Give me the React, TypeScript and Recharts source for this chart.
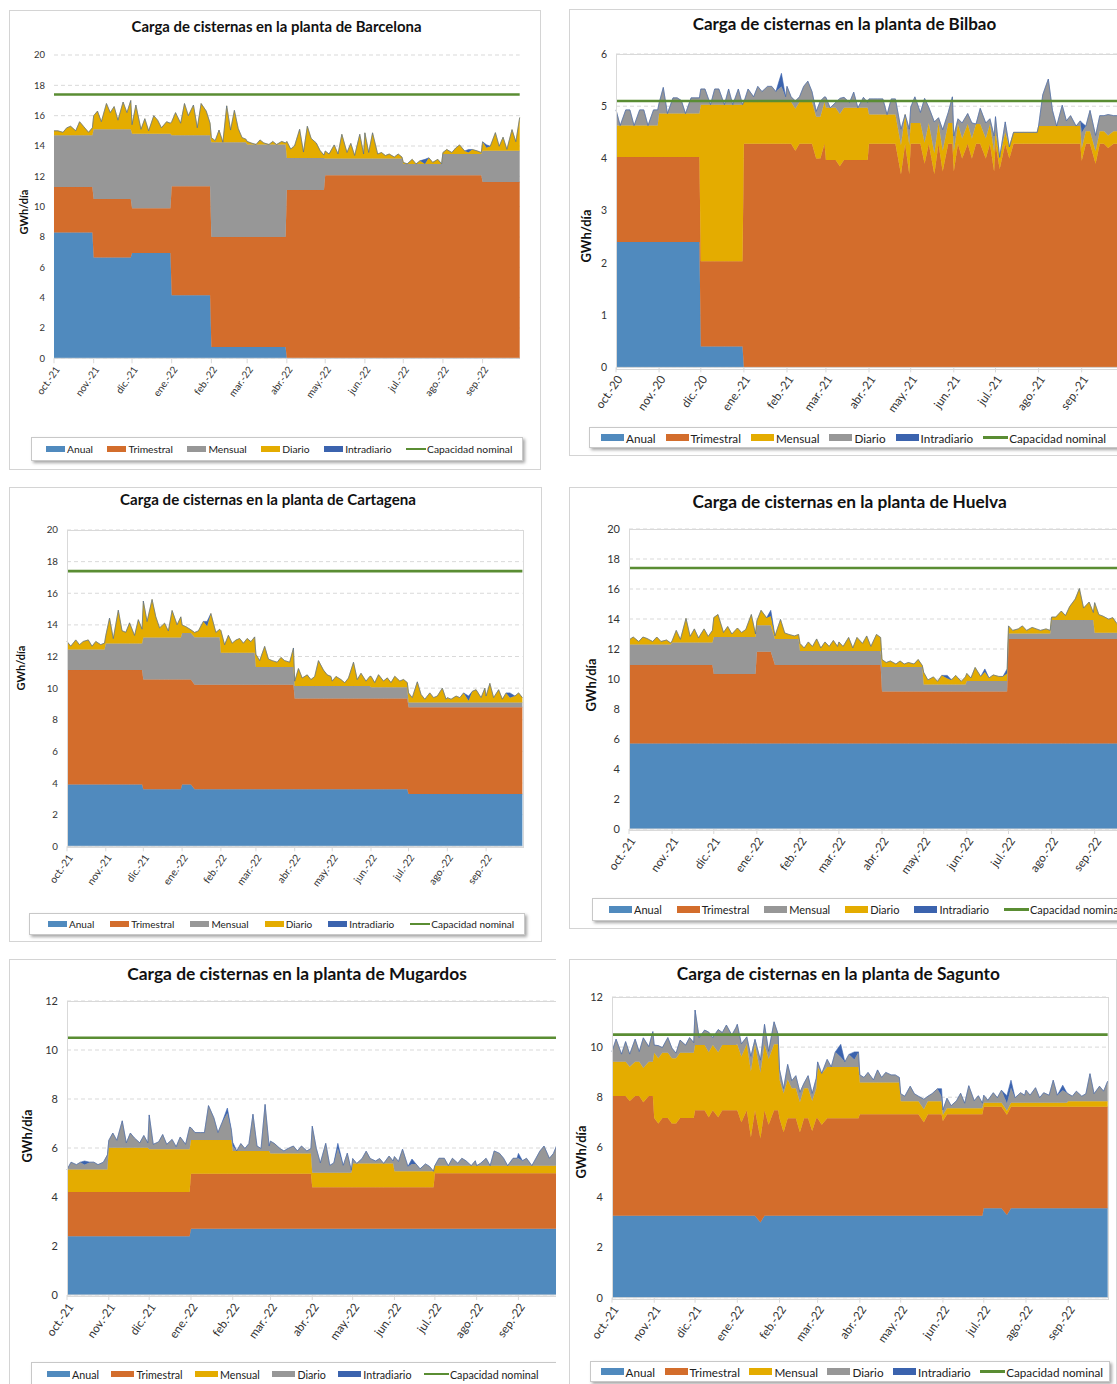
import React from 'react';
import { ComposedChart, Area, Line, XAxis, YAxis, CartesianGrid } from 'recharts';

const FONT = 'Lato, "Open Sans", sans-serif';
const AZUL = '#508ABE';
const NARANJA = '#D36D2C';
const GRIS = '#979797';
const ORO = '#E4AC00';
const AZUL_OSC = '#3B63AE';
const VERDE = '#5A8D33';

// año de octubre a septiembre
const DIAS_MES = [31, 30, 31, 31, 28, 31, 30, 31, 30, 31, 31, 30];
const INICIO_MES = [0, 31, 61, 92, 123, 151, 182, 212, 243, 273, 304, 335];

const MESES_2122 = ['oct.-21', 'nov.-21', 'dic.-21', 'ene.-22', 'feb.-22', 'mar.-22', 'abr.-22', 'may.-22', 'jun.-22', 'jul.-22', 'ago.-22', 'sep.-22'];
const MESES_2021 = ['oct.-20', 'nov.-20', 'dic.-20', 'ene.-21', 'feb.-21', 'mar.-21', 'abr.-21', 'may.-21', 'jun.-21', 'jul.-21', 'ago.-21', 'sep.-21'];
const SERIES = ['Anual', 'Trimestral', 'Mensual', 'Diario', 'Intradiario'];

// ---------- Barcelona (GWh/día) ----------
const BCN_ANUAL = [8.3, 6.65, 6.95, 4.15, 0.75, 0.75, 0, 0, 0, 0, 0, 0];
const BCN_TRIMESTRAL = [3.0, 3.85, 2.95, 7.2, 7.25, 7.25, 11.1, 12.07, 12.07, 12.07, 12.07, 11.63];
const BCN_MENSUAL = [3.4, 4.6, 4.9, 3.35, 6.25, 6.1, 2.1, 1.1, 1.1, 0.75, 1.4, 2.05];
const BCN_DIARIO = [
  0.3, 0.3, 0.2, 0.5, 0.6, 0.3, 0.9, 0.6, 0.2, 0.5,
  0.9, 1.2, 0.5, 1.7, 1.1, 1.5, 0.6, 1.8, 1.1, 1.9,
  0.6, 1.9, 0.3, 1.0, 0.2, 1.2, 0.9, 0.4, 0.8, 0.7,
  0.9, 1.5, 0.8, 2.1, 1.3, 2.0, 0.5, 2.1, 1.6, 0.8,
  0.3, 0.1, 0.8, 0, 2.4, 0.8, 2.1, 0.9, 0.3, 0.2,
  0.2, 0.1, 0, 0.3, 0.1, 0, 0.2, 0, 0.2, 0.1,
  1.1, 0.6, 0.8, 1.9, 0.4, 2.1, 1.3, 1.0, 0.5, 0.2,
  0.5, 0.3, 0.9, 0.3, 1.6, 0.4, 1.0, 0.2, 1.6, 0.3,
  1.7, 0.4, 1.7, 0.3, 0.4, 0.2, 0.3, 0.1, 0.3, 0.1,
  0.1, 0, 0.3, 0, 0.2, 0, 0.4, 0.1, 0.3, 0,
  0.1, 0.3, 0.1, 0.4, 0.6, 0.2, 0.1, 0.3, 0.2, 0.1,
  0.6, 0.2, 0.3, 1.2, 0.3, 0.9, 0.1, 1.4, 0.6, 2.2,
];
const BCN_INTRADIARIO: [number, number][] = [[95, 0.3], [106, 0.2], [111, 0.2]];
const BCN_AJUSTES: [string, number, number][] = [];
const BCN_CAPACIDAD = 17.4;

// ---------- Bilbao ----------
const BIO_ANUAL = [2.4, 2.4, 0.4, 0, 0, 0, 0, 0, 0, 0, 0, 0];
const BIO_TRIMESTRAL = [1.63, 1.63, 1.63, 4.28, 4.28, 3.97, 4.28, 4.28, 4.28, 4.28, 4.28, 4.28];
const BIO_MENSUAL = [0.6, 0.83, 3.0, 0.8, 0.8, 1.0, 0.56, 0.4, 0.38, 0.22, 0.34, 0.24];
const BIO_DIARIO = [
  0.3, 0, 0.3, 0.3, 0, 0.3, 0.3, 0, 0.3, 0.3,
  0.2, 0.5, 0, 0.3, 0.3, 0.25, 0, 0.3, 0.3, 0.3,
  0.3, 0.3, 0, 0.3, 0.3, 0, 0.3, 0, 0.3, 0,
  0, 0.25, 0.1, 0.3, 0.2, 0.3, 0.3, 0.2, 0.3, 0.1,
  0.3, 0.1, 0.15, 0.1, 0.3, 0.4, 0.2, 0.1, 0.3, 0.1,
  0.2, 0, 0.1, 0.3, 0.2, 0.1, 0.3, 0, 0.2, 0.1,
  0.3, 0.3, 0.3, 0.3, 0, 0.3, 0.3, 0.3, 0, 0.3,
  0.3, 0.5, 0.2, 0.85, 0.3, 0.6, 0.1, 0.4, 0.2, 0.5,
  0.3, 0.1, 0.3, 0.2, 0.3, 0, 0.3, 0.3, 0.1, 0.3,
  0.3, 0, 0.2, 0, 0, 0, 0, 0, 0, 0,
  0, 0.6, 0.9, 0.3, 0, 0.4, 0.1, 0.2, 0, 0.1,
  0.3, 0.1, 0.4, 0.3, 0.3, 0.3, 0.4, 0.3, 0.3, 0.3,
];
const BIO_INTRADIARIO: [number, number][] = [[38, 0.25], [110, 0.2]];
const BIO_AJUSTES: [string, number, number][] = [
  ['trimestral', 42, 4.15], ['trimestral', 47, 4.0], ['trimestral', 48, 4.0], ['trimestral', 53, 3.85],
  ['trimestral', 67, 3.7], ['trimestral', 69, 3.7], ['trimestral', 73, 3.9], ['trimestral', 75, 3.7],
  ['trimestral', 77, 3.75], ['trimestral', 80, 3.75], ['trimestral', 82, 4.0], ['trimestral', 84, 4.0],
  ['trimestral', 87, 4.0], ['trimestral', 89, 3.75], ['trimestral', 91, 3.8], ['trimestral', 93, 4.0],
  ['trimestral', 110, 3.95], ['trimestral', 113, 3.9], ['trimestral', 116, 4.2],
];
const BIO_CAPACIDAD = 5.1;

// ---------- Cartagena ----------
const CTG_ANUAL = [3.9, 3.9, 3.6, 3.6, 3.6, 3.6, 3.6, 3.6, 3.6, 3.3, 3.3, 3.3];
const CTG_TRIMESTRAL = [7.25, 7.25, 6.95, 6.62, 6.62, 6.62, 5.75, 5.75, 5.75, 5.5, 5.5, 5.5];
const CTG_MENSUAL = [1.3, 1.68, 2.66, 3.0, 2.02, 1.12, 0.79, 0.79, 0.7, 0.3, 0.3, 0.3];
const CTG_DIARIO = [
  0.5, 0.2, 0.6, 0.3, 0.5, 0.6, 0.2, 0.5, 0.3, 0.4,
  0.5, 1.6, 0.3, 2.1, 0.8, 0.7, 1.3, 0.5, 1.5, 0.9,
  2.3, 1.0, 2.4, 1.3, 0.6, 0.9, 0.4, 1.7, 0.8, 1.3,
  0.5, 0.4, 0.2, 0.3, 0.4, 1.0, 0.7, 1.5, 0.3, 0.5,
  1.4, 0.5, 1.1, 0.6, 0.8, 0.9, 0.6, 0.9, 0.7, 1.0,
  0.8, 0.4, 1.3, 0.5, 0.4, 0.3, 0.6, 0.4, 0.3, 1.2,
  0.3, 1.1, 0.5, 0.7, 0.4, 0.6, 1.6, 1.0, 0.7, 0.6,
  0.3, 0.6, 0.4, 0.2, 0.5, 1.5, 0.4, 0.8, 0.3, 0.6,
  0.7, 0.3, 0.8, 0.4, 0.6, 0.3, 0.7, 0.4, 0.5, 0.3,
  0.6, 0.3, 1.3, 0.5, 0.2, 0.6, 0.3, 0.4, 0.9, 0.2,
  0.3, 0.2, 0.4, 0.3, 0.6, 0.1, 0.7, 0.8, 0.3, 0.9,
  0.4, 1.2, 0.3, 0.8, 0.2, 0.6, 0.3, 0.4, 0.6, 0.3,
];
const CTG_INTRADIARIO: [number, number][] = [[36, 0.3], [105, 0.3], [116, 0.3]];
const CTG_AJUSTES: [string, number, number][] = [
  ['anual', 30, 3.9], ['anual', 31, 3.9], ['anual', 32, 3.9],
  ['trimestral', 30, 6.65], ['trimestral', 31, 6.65], ['trimestral', 32, 6.65],
  ['mensual', 30, 2.94], ['mensual', 31, 2.94], ['mensual', 32, 2.94],
];
const CTG_CAPACIDAD = 17.4;

// ---------- Huelva ----------
const HUV_ANUAL = [5.7, 5.7, 5.7, 5.7, 5.7, 5.7, 5.7, 5.7, 5.7, 5.7, 5.7, 5.7];
const HUV_TRIMESTRAL = [5.23, 5.23, 4.63, 5.23, 5.23, 5.23, 3.46, 3.46, 3.46, 6.97, 6.97, 6.97];
const HUV_MENSUAL = [1.37, 1.51, 2.47, 1.74, 0.94, 0.94, 1.64, 0.48, 0.71, 0.37, 1.26, 0.42];
const HUV_DIARIO = [
  0.3, 0.5, 0.2, 0.5, 0.4, 0.2, 0.5, 0.2, 0.3, 0.1,
  0.1, 0.8, 0.2, 1.6, 0.4, 0.9, 0.3, 0.9, 0.4, 0.8,
  1.3, 1.5, 0.3, 0.7, 0.2, 0.6, 0.3, 0.5, 1.5, 0.2,
  0.3, 1.0, 0.5, 0.6, 0.2, 1.3, 0.4, 0.3, 0.2, 0.3,
  0.5, 0.2, 0.6, 0.3, 0.8, 0.2, 0.6, 0.3, 0.7, 0.3,
  0.6, 0.3, 0.9, 0.2, 0.9, 0.5, 1.0, 0.3, 1.1, 0.9,
  0.5, 0.3, 0.4, 0.2, 0.4, 0.2, 0.3, 0.2, 0.5, 0.1,
  0.8, 0.3, 0.5, 0.2, 0.6, 0.4, 0.3, 0.6, 0.2, 0.5,
  0.5, 0.2, 0.9, 0.3, 0.6, 0.2, 0.4, 0.3, 0.3, 0.5,
  0.5, 0.2, 0.3, 0.5, 0.2, 0.4, 0.3, 0.2, 0.3, 0.2,
  0.2, 0.2, 0.6, 0.3, 0.9, 1.4, 2.1, 0.8, 1.2, 0.5,
  2.0, 1.2, 1.1, 0.9, 1.0, 0.6, 0.7, 0.3, 0.5, 0.2,
];
const HUV_INTRADIARIO: [number, number][] = [[33, 0.4], [75, 0.2], [84, 0.2], [89, 0.3]];
const HUV_AJUSTES: [string, number, number][] = [
  ['trimestral', 30, 6.12], ['trimestral', 31, 6.12], ['trimestral', 32, 6.12], ['trimestral', 33, 6.12],
  ['mensual', 30, 1.76], ['mensual', 31, 1.76], ['mensual', 32, 1.76], ['mensual', 33, 1.76],
];
const HUV_CAPACIDAD = 17.4;

// ---------- Mugardos ----------
const MUG_ANUAL = [2.4, 2.4, 2.4, 2.7, 2.7, 2.7, 2.7, 2.7, 2.7, 2.7, 2.7, 2.7];
const MUG_TRIMESTRAL = [1.8, 1.8, 1.8, 2.25, 2.25, 2.25, 1.7, 1.7, 1.7, 2.27, 2.27, 2.27];
const MUG_MENSUAL = [0.92, 1.81, 1.75, 1.38, 0.93, 0.83, 0.59, 0.97, 0.65, 0.31, 0.31, 0.31];
const MUG_DIARIO = [
  0, 0.3, 0.2, 0.3, 0.2, 0.3, 0.3, 0.2, 0.3, 0.6,
  0.3, 0.6, 0.3, 1.1, 0.2, 0.6, 0.4, 0.2, 0.5, 0.2,
  1.4, 0.2, 0.3, 0.6, 0.2, 0.4, 0.1, 0.5, 0.2, 0.9,
  0.5, 0.3, 0.3, 0.3, 1.4, 0.9, 0.3, 0.7, 1.1, 0.4,
  0.2, 0, 0.3, 0.1, 0.3, 1.5, 0.2, 0.1, 1.9, 0.2,
  0.5, 0.4, 0.2, 0.1, 0.2, 0.3, 0.1, 0.3, 0.1, 0.2,
  1.9, 1.0, 0.4, 1.2, 0.3, 0.4, 1.0, 0.3, 0.8, 0.1,
  0.2, 0, 0.2, 0.5, 0.2, 0.1, 0.2, 0, 0.3, 0.1,
  0.6, 0.4, 0.9, 0.2, 0.3, 0.3, 0.1, 0.3, 0.2, 0,
  0, 0.3, 0.3, 0, 0.3, 0.1, 0.3, 0.2, 0, 0.2,
  0, 0.1, 0.3, 0, 0.6, 0.5, 0.3, 0, 0.3, 0.3,
  0.3, 0.2, 0.3, 0, 0.3, 0.6, 0.8, 0.3, 0.5, 0.9,
];
const MUG_INTRADIARIO: [number, number][] = [[4, 0.15], [38, 0.2], [40, 0.15], [66, 0.2], [84, 0.2], [110, 0.2]];
const MUG_AJUSTES: [string, number, number][] = [];
const MUG_CAPACIDAD = 10.5;

// ---------- Sagunto ----------
const SAG_ANUAL = [3.27, 3.27, 3.27, 3.27, 3.27, 3.27, 3.27, 3.27, 3.27, 3.57, 3.57, 3.57];
const SAG_TRIMESTRAL = [4.78, 3.9, 4.21, 4.21, 3.89, 3.89, 4.05, 4.05, 4.05, 4.05, 4.05, 4.05];
const SAG_MENSUAL = [1.37, 2.61, 2.6, 2.63, 1.2, 2.05, 1.27, 0.52, 0.24, 0.16, 0.16, 0.22];
const SAG_DIARIO = [
  0.4, 0.9, 0.3, 0.8, 0.5, 0.9, 0.4, 1.2, 0.6, 1.2,
  0.3, 0.5, 0.2, 0.6, 0.4, 0.2, 0.5, 0.3, 0.6, 0.4,
  1.4, 0.3, 0.6, 0.8, 0.3, 0.9, 0.5, 0.8, 0.4, 0.7,
  0.8, 0.5, 0.3, 0.6, 0.2, 0.5, 0.8, 0.3, 0.9, 0.4,
  0.4, 0.2, 0.6, 0.3, 0.5, 0.4, 0.2, 0.5, 0.3, 0.4,
  0.2, 0, 0.3, 0, 0.6, 0.4, 0.2, 0.5, 0.3, 0.6,
  0.3, 0.2, 0.4, 0.1, 0.5, 0.2, 0.4, 0.3, 0.3, 0.2,
  0.3, 0.2, 0.6, 0.3, 0.2, 0.4, 0.2, 0.3, 0.5, 0.2,
  0.2, 0.4, 0.1, 0.3, 0.6, 0.2, 0.9, 0.3, 0.5, 0.2,
  0.3, 0.1, 0.4, 0.2, 0.5, 0.3, 0.6, 0.2, 0.4, 0.3,
  0.5, 0.3, 0.6, 0.2, 0.4, 0.3, 0.9, 0.3, 0.5, 0.4,
  0.3, 0.2, 0.4, 0.2, 0.3, 1.1, 0.3, 0.6, 0.4, 0.8,
];
const SAG_INTRADIARIO: [number, number][] = [[55, 0.5], [58, 0.3], [79, 0.3], [95, 0.3], [96, 0.3], [108, 0.2]];
const SAG_AJUSTES: [string, number, number][] = [
  ['trimestral', 4, 4.58], ['trimestral', 7, 4.53], ['trimestral', 11, 3.68], ['trimestral', 14, 3.68],
  ['trimestral', 15, 3.68], ['trimestral', 23, 3.93], ['trimestral', 25, 3.93], ['trimestral', 31, 3.73],
  ['trimestral', 33, 3.13], ['trimestral', 35, 3.35], ['trimestral', 37, 3.63], ['trimestral', 41, 3.33],
  ['trimestral', 45, 3.33], ['trimestral', 48, 3.38], ['trimestral', 51, 3.63], ['trimestral', 75, 3.73],
  ['trimestral', 80, 3.78], ['trimestral', 95, 4.0], ['anual', 35, 3.0], ['anual', 95, 3.3],
  ['mensual', 40, 1.55], ['mensual', 41, 1.55], ['mensual', 42, 1.55],
];
const SAG_CAPACIDAD = 10.5;

type Fila = { day: number; anual: number; trimestral: number; mensual: number; diario: number; intradiario: number; cap: number };

function construirFilas(
  anual: number[], trimestral: number[], mensual: number[], diario: number[],
  intradiario: [number, number][], ajustes: [string, number, number][], capacidad: number,
): Fila[] {
  const filas: Fila[] = [];
  for (let i = 0; i < diario.length; i++) {
    const m = Math.floor(i / 10);
    const k = i % 10;
    filas.push({
      day: INICIO_MES[m] + Math.round((k * (DIAS_MES[m] - 1)) / 9),
      anual: anual[m], trimestral: trimestral[m], mensual: mensual[m],
      diario: diario[i], intradiario: 0, cap: capacidad,
    });
  }
  intradiario.forEach(([i, v]) => { filas[i].intradiario = v; });
  ajustes.forEach(([serie, i, v]) => { (filas[i] as any)[serie] = v; });
  return filas;
}

interface Layout {
  box: { left: number; top: number; width: number; height: number; noRight?: boolean };
  x0: number; x1: number; yTop: number; y0: number; yMax: number; yStep: number;
  title: string; titleX: number; titleY: number; titleSize: number;
  yLabelX: number; yLabelY: number; yLabelSize: number;
  xTick: number; yTick: number;
  legend: { left: number; top: number; width: number; height: number; pad: number; gap: number; font: number; swW: number; swH: number; lineW: number };
  frame: boolean; meses: string[]; mensualColor: string; diarioColor: string;
}

function Panel({ lay, data }: { lay: Layout; data: Fila[] }) {
  const b = lay.box;
  const yw = 36;
  const mt = 6;
  const mr = 2;
  const xh = 56;
  const w = lay.x1 - lay.x0 + yw + mr;
  const h = lay.y0 - lay.yTop + mt + xh;
  const yTicks: number[] = [];
  for (let v = 0; v <= lay.yMax + 1e-6; v += lay.yStep) yTicks.push(Math.round(v * 10) / 10);
  const colores = [AZUL, NARANJA, lay.mensualColor, lay.diarioColor, AZUL_OSC];
  const keys = ['anual', 'trimestral', 'mensual', 'diario', 'intradiario'];
  const lg = lay.legend;

  return (
    <div style={{
      position: 'absolute', left: b.left, top: b.top, width: b.width, height: b.height,
      overflow: 'hidden', boxSizing: 'border-box', background: '#fff',
      border: '1px solid #d4d4d4', borderRight: b.noRight ? 'none' : '1px solid #d4d4d4',
    }}>
      <div style={{
        position: 'absolute', left: lay.titleX - b.left - 300, width: 600, top: lay.titleY - b.top - lay.titleSize * 0.68,
        textAlign: 'center', fontWeight: 700, fontSize: lay.titleSize, color: '#111', whiteSpace: 'nowrap',
      }}>{lay.title}</div>

      <div style={{
        position: 'absolute', left: lay.yLabelX - b.left, top: lay.yLabelY - b.top,
        transform: 'translate(-50%, -50%) rotate(-90deg)', fontWeight: 700, fontSize: lay.yLabelSize,
        color: '#111', whiteSpace: 'nowrap',
      }}>GWh/día</div>

      <div style={{ position: 'absolute', left: lay.x0 - yw - b.left - 1, top: lay.yTop - mt - b.top - 1 }}>
        <ComposedChart width={w} height={h} data={data} margin={{ top: mt, right: mr, bottom: 0, left: 0 }}>
          <CartesianGrid vertical={false} stroke="#d9d9d9" strokeDasharray="4 3" />
          <XAxis
            type="number" dataKey="day" domain={[0, 364]} ticks={INICIO_MES} interval={0} height={xh}
            axisLine={{ stroke: '#d9d9d9' }} tickLine={{ stroke: '#d9d9d9' }} tickSize={5} tickMargin={2}
            tick={(p: any) => (
              <text
                transform={`translate(${p.x + 3},${p.y + 2}) rotate(-55)`}
                textAnchor="end" dominantBaseline="central"
                fontSize={lay.xTick} fill="#333" fontFamily={FONT}
              >
                {lay.meses[INICIO_MES.indexOf(p.payload.value)]}
              </text>
            )}
          />
          <YAxis
            domain={[0, lay.yMax]} ticks={yTicks} width={yw} axisLine={false} tickLine={false}
            tickSize={0} tickMargin={9} interval={0}
            tick={{ fontSize: lay.yTick, fill: '#333', fontFamily: FONT }}
          />
          {keys.map((k, i) => (
            <Area
              key={k} type="linear" dataKey={k} stackId="1" fill={colores[i]} fillOpacity={1}
              stroke={colores[i]} strokeWidth={0.6} isAnimationActive={false} dot={false} activeDot={false}
            />
          ))}
          <Line type="linear" dataKey="cap" stroke={VERDE} strokeWidth={2.6} dot={false} activeDot={false} isAnimationActive={false} />
        </ComposedChart>
      </div>

      {lay.frame && (
        <div style={{
          position: 'absolute', left: lay.x0 - b.left - 1, top: lay.yTop - b.top - 1,
          width: lay.x1 - lay.x0, height: lay.y0 - lay.yTop, border: '1px solid #d9d9d9', pointerEvents: 'none',
        }} />
      )}

      <div style={{
        position: 'absolute', left: lg.left - b.left - 1, top: lg.top - b.top - 1, width: lg.width, height: lg.height,
        boxSizing: 'border-box', border: '1px solid #c8c8c8', background: '#fff',
        boxShadow: '2px 2px 3px rgba(0,0,0,0.35)', display: 'flex', alignItems: 'center',
        paddingLeft: lg.pad, gap: lg.gap, fontSize: lg.font, color: '#222', whiteSpace: 'nowrap',
      }}>
        {SERIES.map((s, i) => (
          <div key={s} style={{ display: 'flex', alignItems: 'center', gap: 2 }}>
            <div style={{ width: lg.swW, height: lg.swH, background: colores[i] }} />
            <span>{s}</span>
          </div>
        ))}
        <div style={{ display: 'flex', alignItems: 'center', gap: 1 }}>
          <div style={{ width: lg.lineW, height: 2.5, background: VERDE }} />
          <span>Capacidad nominal</span>
        </div>
      </div>
    </div>
  );
}

const LAY_BCN: Layout = {
  box: { left: 9, top: 10, width: 532, height: 460 },
  x0: 54.3, x1: 520, yTop: 55, y0: 358.3, yMax: 20, yStep: 2,
  title: 'Carga de cisternas en la planta de Barcelona', titleX: 275.5, titleY: 26, titleSize: 14.9,
  yLabelX: 22, yLabelY: 211, yLabelSize: 11, xTick: 10, yTick: 9.5,
  legend: { left: 31, top: 437, width: 492, height: 24, pad: 14, gap: 14.5, font: 10.3, swW: 19, swH: 6, lineW: 20 },
  frame: false, meses: MESES_2122, mensualColor: GRIS, diarioColor: ORO,
};
const LAY_BIO: Layout = {
  box: { left: 569, top: 9, width: 600, height: 447 },
  x0: 615.7, x1: 1121.7, yTop: 54.3, y0: 367.7, yMax: 6, yStep: 1,
  title: 'Carga de cisternas en la planta de Bilbao', titleX: 843.5, titleY: 23.3, titleSize: 17,
  yLabelX: 585, yLabelY: 235, yLabelSize: 13, xTick: 11.7, yTick: 10.5,
  legend: { left: 589, top: 427, width: 560, height: 21, pad: 11, gap: 10, font: 11.7, swW: 23, swH: 7, lineW: 25 },
  frame: true, meses: MESES_2021, mensualColor: ORO, diarioColor: GRIS,
};
const LAY_CTG: Layout = {
  box: { left: 9, top: 487, width: 533, height: 455 },
  x0: 66.6, x1: 522, yTop: 529.7, y0: 846, yMax: 20, yStep: 2,
  title: 'Carga de cisternas en la planta de Cartagena', titleX: 267, titleY: 499.3, titleSize: 15.1,
  yLabelX: 19, yLabelY: 667, yLabelSize: 11, xTick: 10.2, yTick: 9.8,
  legend: { left: 29, top: 913, width: 496, height: 22, pad: 18, gap: 16, font: 10, swW: 19, swH: 6, lineW: 20 },
  frame: true, meses: MESES_2122, mensualColor: GRIS, diarioColor: ORO,
};
const LAY_HUV: Layout = {
  box: { left: 569, top: 487, width: 600, height: 442 },
  x0: 628.7, x1: 1134.7, yTop: 529.3, y0: 829.3, yMax: 20, yStep: 2,
  title: 'Carga de cisternas en la planta de Huelva', titleX: 848.6, titleY: 502, titleSize: 17.3,
  yLabelX: 590, yLabelY: 684, yLabelSize: 13, xTick: 11.7, yTick: 11,
  legend: { left: 592, top: 898, width: 560, height: 23, pad: 16, gap: 15, font: 11, swW: 23, swH: 7, lineW: 25 },
  frame: true, meses: MESES_2122, mensualColor: GRIS, diarioColor: ORO,
};
const LAY_MUG: Layout = {
  box: { left: 9, top: 959, width: 547, height: 440, noRight: true },
  x0: 67.2, x1: 557.7, yTop: 1000.7, y0: 1294.7, yMax: 12, yStep: 2,
  title: 'Carga de cisternas en la planta de Mugardos', titleX: 296, titleY: 973.7, titleSize: 17.4,
  yLabelX: 26, yLabelY: 1135, yLabelSize: 13, xTick: 11.7, yTick: 11,
  legend: { left: 31, top: 1362, width: 560, height: 24, pad: 15, gap: 12.5, font: 10.7, swW: 23, swH: 6, lineW: 25 },
  frame: true, meses: MESES_2122, mensualColor: ORO, diarioColor: GRIS,
};
const LAY_SAG: Layout = {
  box: { left: 569, top: 959, width: 548, height: 440 },
  x0: 611.6, x1: 1107.3, yTop: 997.3, y0: 1298, yMax: 12, yStep: 2,
  title: 'Carga de cisternas en la planta de Sagunto', titleX: 837.3, titleY: 974, titleSize: 17.3,
  yLabelX: 580, yLabelY: 1151, yLabelSize: 13, xTick: 11.7, yTick: 11,
  legend: { left: 590, top: 1361, width: 520, height: 21, pad: 9.5, gap: 9.5, font: 11.7, swW: 23, swH: 7, lineW: 25 },
  frame: true, meses: MESES_2122, mensualColor: ORO, diarioColor: GRIS,
};

export default function App() {
  const bcn = construirFilas(BCN_ANUAL, BCN_TRIMESTRAL, BCN_MENSUAL, BCN_DIARIO, BCN_INTRADIARIO, BCN_AJUSTES, BCN_CAPACIDAD);
  const bio = construirFilas(BIO_ANUAL, BIO_TRIMESTRAL, BIO_MENSUAL, BIO_DIARIO, BIO_INTRADIARIO, BIO_AJUSTES, BIO_CAPACIDAD);
  const ctg = construirFilas(CTG_ANUAL, CTG_TRIMESTRAL, CTG_MENSUAL, CTG_DIARIO, CTG_INTRADIARIO, CTG_AJUSTES, CTG_CAPACIDAD);
  const huv = construirFilas(HUV_ANUAL, HUV_TRIMESTRAL, HUV_MENSUAL, HUV_DIARIO, HUV_INTRADIARIO, HUV_AJUSTES, HUV_CAPACIDAD);
  const mug = construirFilas(MUG_ANUAL, MUG_TRIMESTRAL, MUG_MENSUAL, MUG_DIARIO, MUG_INTRADIARIO, MUG_AJUSTES, MUG_CAPACIDAD);
  const sag = construirFilas(SAG_ANUAL, SAG_TRIMESTRAL, SAG_MENSUAL, SAG_DIARIO, SAG_INTRADIARIO, SAG_AJUSTES, SAG_CAPACIDAD);

  return (
    <div style={{
      position: 'absolute', left: 0, top: 0, width: 1117, height: 1384, overflow: 'hidden',
      background: '#fff', fontFamily: FONT,
    }}>
      <Panel lay={LAY_BCN} data={bcn} />
      <Panel lay={LAY_BIO} data={bio} />
      <Panel lay={LAY_CTG} data={ctg} />
      <Panel lay={LAY_HUV} data={huv} />
      <Panel lay={LAY_MUG} data={mug} />
      <Panel lay={LAY_SAG} data={sag} />
    </div>
  );
}
